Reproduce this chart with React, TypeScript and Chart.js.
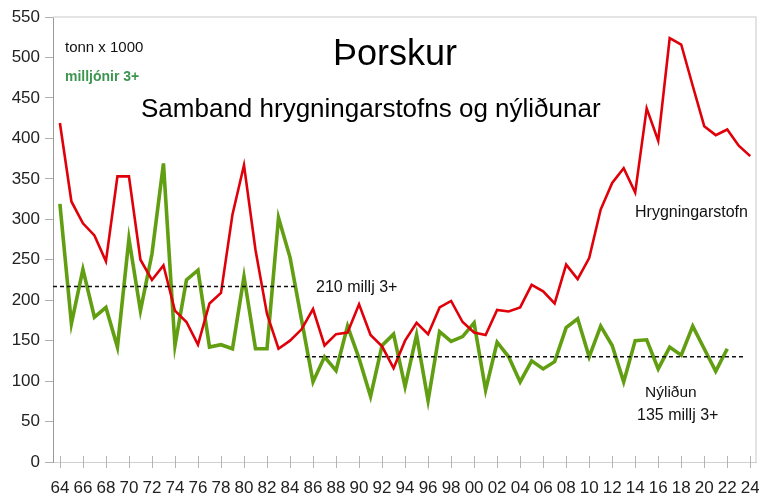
import React, { useEffect, useRef } from "react";
import { Chart, registerables } from "chart.js";

Chart.register(...registerables);

const FONT = '"Liberation Sans", Arial, Helvetica, sans-serif';

// Years 1964..2024
const years: number[] = [];
for (let y = 1964; y <= 2024; y++) years.push(y);

const tickYears: number[] = years.filter((y) => y % 2 === 0);
const tickLabels: string[] = tickYears.map((y) => String(y % 100).padStart(2, "0"));

// Hrygningarstofn (tonn x 1000), 1964-2024
const spawningStock: number[] = [
  419, 322, 295, 280, 248, 353, 353, 250, 225, 243,
  187, 173, 145, 196, 209, 306, 367, 262, 183, 140,
  150, 164, 189, 144, 158, 160, 195, 157, 143, 116,
  150, 172, 158, 191, 199, 173, 160, 157, 188, 186,
  191, 219, 211, 196, 244, 226, 252, 312, 345, 363,
  333, 437, 397, 524, 516, 465, 415, 404, 411, 391,
  378,
];

// Nýliðun (milljónir 3+), 1964-2022
const recruitment: number[] = [
  319, 171, 238, 179, 191, 142, 276, 187, 257, 369,
  144, 225, 237, 142, 145, 140, 229, 140, 140, 302,
  253, 176, 99, 130, 113, 168, 128, 81, 144, 158,
  93, 157, 76, 161, 149, 155, 172, 89, 148, 130,
  99, 125, 115, 124, 166, 177, 130, 168, 144, 99,
  150, 151, 115, 142, 132, 168, 140, 112, 140,
];

// Mean recruitment reference lines (as drawn)
const earlyMeanYears: number[] = [1963.4, 1984.6];
const earlyMeanValue = 217;
const lateMeanYears: number[] = [1985.3, 2023.4];
const lateMeanValue = 130;

const yTicks = { min: 0, max: 550, step: 50 };

const RED = "rgb(224, 0, 10)";
const GREEN = "rgb(98, 158, 18)";

const decorPlugin = {
  id: "decor",
  beforeDatasetsDraw(chart: any) {
    const { ctx, chartArea: a, scales } = chart;
    const x = scales.x;
    ctx.save();
    ctx.strokeStyle = "#dcdcdc";
    ctx.lineWidth = 1.5;
    ctx.beginPath();
    ctx.moveTo(a.left, a.top);
    ctx.lineTo(a.right, a.top);
    ctx.lineTo(a.right, a.bottom);
    ctx.stroke();
    ctx.strokeStyle = "#b5b5b5";
    ctx.lineWidth = 1;
    ctx.beginPath();
    tickYears.forEach((v) => {
      const px = Math.round(x.getPixelForValue(v)) + 0.5;
      ctx.moveTo(px, a.bottom - 6);
      ctx.lineTo(px, a.bottom + 6);
    });
    ctx.stroke();
    // x tick labels, placed by the x scale
    ctx.font = `17px ${FONT}`;
    ctx.fillStyle = "#222";
    ctx.textAlign = "center";
    ctx.textBaseline = "alphabetic";
    tickYears.forEach((v, i) => {
      ctx.fillText(tickLabels[i], x.getPixelForValue(v), a.bottom + 31);
    });
    ctx.restore();
  },
  afterDatasetsDraw(chart: any) {
    const { ctx } = chart;
    ctx.save();
    ctx.textAlign = "left";
    ctx.textBaseline = "alphabetic";
    const t = (s: string, x: number, y: number, font: string, color: string) => {
      ctx.font = font;
      ctx.fillStyle = color;
      ctx.fillText(s, x, y);
    };
    t("Þorskur", 333, 65, `36px ${FONT}`, "#000");
    t("Samband hrygningarstofns og nýliðunar", 141, 117, `26px ${FONT}`, "#000");
    t("tonn x 1000", 65, 52, `15px ${FONT}`, "#111");
    t("milljónir 3+", 65, 81, `bold 14px ${FONT}`, "rgb(60, 150, 80)");
    t("Hrygningarstofn", 635, 216.5, `16px ${FONT}`, "#111");
    t("210 millj 3+", 316, 292, `16px ${FONT}`, "#111");
    t("Nýliðun", 645, 396.5, `15.5px ${FONT}`, "#111");
    t("135 millj 3+", 637, 420, `16px ${FONT}`, "#111");
    ctx.restore();
  },
};

export default function App() {
  const ref = useRef<HTMLCanvasElement | null>(null);

  useEffect(() => {
    if (!ref.current) return;
    const chart = new Chart(ref.current, {
      type: "line",
      data: {
        datasets: [
          {
            label: "Hrygningarstofn",
            data: years.map((yr, i) => ({ x: yr, y: spawningStock[i] })),
            borderColor: RED,
            borderWidth: 2.6,
            pointRadius: 0,
            tension: 0,
            order: 1,
          },
          {
            label: "Nýliðun",
            data: recruitment.map((v, i) => ({ x: years[i], y: v })),
            borderColor: GREEN,
            borderWidth: 3.6,
            pointRadius: 0,
            tension: 0,
            order: 2,
          },
          {
            label: "210 millj 3+",
            data: earlyMeanYears.map((yr) => ({ x: yr, y: earlyMeanValue })),
            borderColor: "#111",
            borderWidth: 1.5,
            borderDash: [4, 3],
            pointRadius: 0,
            order: 0,
          },
          {
            label: "135 millj 3+",
            data: lateMeanYears.map((yr) => ({ x: yr, y: lateMeanValue })),
            borderColor: "#111",
            borderWidth: 1.5,
            borderDash: [4, 3],
            pointRadius: 0,
            order: 0,
          },
        ],
      },
      options: {
        animation: false,
        responsive: false,
        maintainAspectRatio: false,
        layout: { padding: { top: 17, right: 3, left: 0, bottom: 0 } },
        plugins: {
          legend: { display: false },
          tooltip: { enabled: false },
          title: { display: false },
        },
        scales: {
          x: {
            type: "linear",
            min: 1963.4,
            max: 2024.5,
            afterBuildTicks: (scale: any) => {
              scale.ticks = tickYears.map((v) => ({ value: v }));
            },
            afterFit: (scale: any) => {
              scale.height = 37;
              scale.paddingLeft = 0;
              scale.paddingRight = 0;
            },
            grid: { display: false },
            border: { display: true, color: "#cfcfcf", width: 1 },
            ticks: { display: false },
          },
          y: {
            type: "linear",
            min: yTicks.min,
            max: yTicks.max,
            afterFit: (scale: any) => {
              scale.width = 53;
              scale.paddingTop = 0;
              scale.paddingBottom = 0;
            },
            grid: {
              display: true,
              drawOnChartArea: false,
              drawTicks: true,
              tickLength: 8,
              color: "#b0b0b0",
            },
            border: { display: true, color: "#9a9a9a", width: 1 },
            ticks: {
              stepSize: yTicks.step,
              padding: 5,
              color: "#222",
              font: { family: FONT, size: 17 },
            },
          },
        },
      },
      plugins: [decorPlugin],
    });
    return () => chart.destroy();
  }, []);

  return (
    <div style={{ position: "fixed", left: 0, top: 0, width: 759, height: 499, background: "#fff" }}>
      <canvas ref={ref} width={759} height={499} style={{ width: 759, height: 499, display: "block" }} />
    </div>
  );
}
